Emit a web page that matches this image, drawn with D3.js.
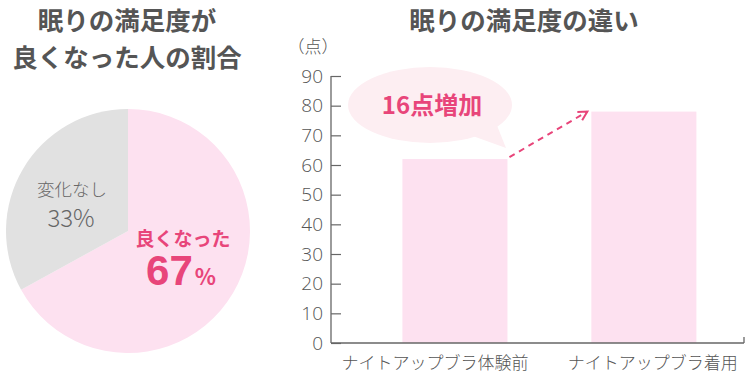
<!DOCTYPE html>
<html><head><meta charset="utf-8">
<script src="https://cdn.jsdelivr.net/npm/d3@7"></script>
<style>
html,body{margin:0;padding:0;background:#fff;}
svg{display:block;font-family:"Noto Sans CJK JP","Noto Sans",sans-serif;}
</style></head>
<body><svg id="c" width="750" height="380"></svg>
<script>
const pieLabels = ["良くなった", "変化なし"];
const pieValues = [67, 33];
const barCategories = ["ナイトアップブラ体験前", "ナイトアップブラ着用"];
const barValues = [62, 78];
const yTicks = [0, 10, 20, 30, 40, 50, 60, 70, 80, 90];
const leftTitle = ["眠りの満足度が", "良くなった人の割合"];
const rightTitle = "眠りの満足度の違い";
const unitLabel = "（点）";
const bubbleText = "16点増加";

const svg = d3.select("#c");
const pink = "#fde1f0", gray = "#e1e1e1", accent = "#e8457a", textGray = "#555";

// Left titles
svg.selectAll("text.lt").data(leftTitle).join("text")
  .attr("x", 127).attr("y", (d, i) => 30 + i * 37)
  .attr("text-anchor", "middle").attr("font-size", 25.5).attr("font-weight", 700)
  .attr("fill", "#555").text(d => d);

// Pie
const pie = d3.pie().sort(null).value(d => d)(pieValues);
const arc = d3.arc().innerRadius(0).outerRadius(122);
const pg = svg.append("g").attr("transform", "translate(128,231)");
pg.selectAll("path").data(pie).join("path")
  .attr("d", arc).attr("fill", (d, i) => i === 0 ? pink : gray);

// pie labels
pg.append("text").attr("x", -56).attr("y", -35).attr("text-anchor", "middle")
  .attr("font-size", 17.5).attr("fill", "#666").attr("font-weight", 300).text(pieLabels[1]);
pg.append("text").attr("x", -57).attr("y", -4).attr("text-anchor", "middle")
  .attr("font-size", 24).attr("fill", "#666").attr("font-weight", 300).text(pieValues[1] + "%");
pg.append("text").attr("x", 55).attr("y", 15).attr("text-anchor", "middle")
  .attr("font-size", 19).attr("fill", accent).attr("font-weight", 700).text(pieLabels[0]);
const big = pg.append("text").attr("x", 53).attr("y", 54).attr("text-anchor", "middle")
  .attr("fill", accent).attr("font-weight", 700);
big.append("tspan").attr("font-size", 42).attr("font-family", "Liberation Sans, Arial, sans-serif").text(pieValues[0]);
big.append("tspan").attr("font-size", 22).attr("dx", 2).text("%");

// Right title
svg.append("text").attr("x", 524).attr("y", 30).attr("text-anchor", "middle")
  .attr("font-size", 25.5).attr("font-weight", 700).attr("fill", "#555").text(rightTitle);

// Bar chart
const x0 = 331, x1 = 744;
const y = d3.scaleLinear().domain([0, 90]).range([343, 76]);
const x = d3.scaleBand().domain(barCategories).range([x0, x1])
  .paddingInner(0.444).paddingOuter(0.315).align(0.6);

svg.selectAll("rect.bar").data(barValues).join("rect")
  .attr("x", (d, i) => x(barCategories[i])).attr("width", x.bandwidth())
  .attr("y", d => y(d)).attr("height", d => y(0) - y(d)).attr("fill", pink);

// y axis
const ya = svg.append("g").attr("transform", `translate(${x0},0)`)
  .call(d3.axisRight(y).tickValues(yTicks).tickSize(10).tickFormat(d3.format("d")));
ya.select(".domain").remove();
ya.selectAll(".tick line").attr("stroke", "#666").attr("stroke-width", 1.2);
ya.selectAll(".tick text").attr("x", -8).attr("text-anchor", "end")
  .attr("font-size", 19).attr("font-weight", 300).attr("fill", textGray)
  .attr("font-family", "Open Sans, sans-serif");
svg.append("line").attr("x1", x0).attr("x2", x0).attr("y1", 76).attr("y2", 343)
  .attr("stroke", "#666").attr("stroke-width", 1.3);
svg.append("line").attr("x1", x0).attr("x2", x1).attr("y1", 343).attr("y2", 343)
  .attr("stroke", "#666").attr("stroke-width", 1.3);
svg.append("line").attr("x1", x1).attr("x2", x1).attr("y1", 337).attr("y2", 343)
  .attr("stroke", "#666").attr("stroke-width", 1.3);

svg.append("text").attr("x", 313).attr("y", 53).attr("text-anchor", "middle")
  .attr("font-size", 17).attr("font-weight", 300).attr("fill", textGray).text(unitLabel);

// x labels
const labelShift = [-20, 9];
svg.selectAll("text.xl").data(barCategories).join("text")
  .attr("x", (d, i) => x(d) + x.bandwidth() / 2 + labelShift[i]).attr("y", 369)
  .attr("text-anchor", "middle").attr("font-size", 17).attr("font-weight", 300)
  .attr("fill", textGray).text(d => d);

// speech bubble
const bx = 430, by = 105;
const bub = svg.append("g");
bub.append("path")
  .attr("d", `M${bx + 40},${by + 30} L${bx + 76},${by + 43} L${bx + 66},${by + 18} Z`)
  .attr("fill", "#fdeef2");
bub.append("ellipse").attr("cx", bx).attr("cy", by).attr("rx", 82).attr("ry", 38).attr("fill", "#fdeef2");
bub.append("text").attr("x", bx + 2).attr("y", by + 9).attr("text-anchor", "middle")
  .attr("font-size", 24).attr("font-weight", 700).attr("fill", accent).text(bubbleText);

// dashed arrow
const ax1 = x(barCategories[0]) + x.bandwidth() + 2, ay1 = y(barValues[0]) - 2;
const ax2 = x(barCategories[1]) - 4, ay2 = y(barValues[1]);
svg.append("line").attr("x1", ax1).attr("y1", ay1).attr("x2", ax2).attr("y2", ay2)
  .attr("stroke", accent).attr("stroke-width", 2).attr("stroke-dasharray", "6,5");
const ang = Math.atan2(ay2 - ay1, ax2 - ax1);
const hl = 10;
const p1 = [ax2 - hl * Math.cos(ang - 0.5), ay2 - hl * Math.sin(ang - 0.5)];
const p2 = [ax2 - hl * Math.cos(ang + 0.5), ay2 - hl * Math.sin(ang + 0.5)];
svg.append("path").attr("d", `M${p1} L${ax2},${ay2} L${p2}`)
  .attr("fill", "none").attr("stroke", accent).attr("stroke-width", 2);
</script></body></html>
